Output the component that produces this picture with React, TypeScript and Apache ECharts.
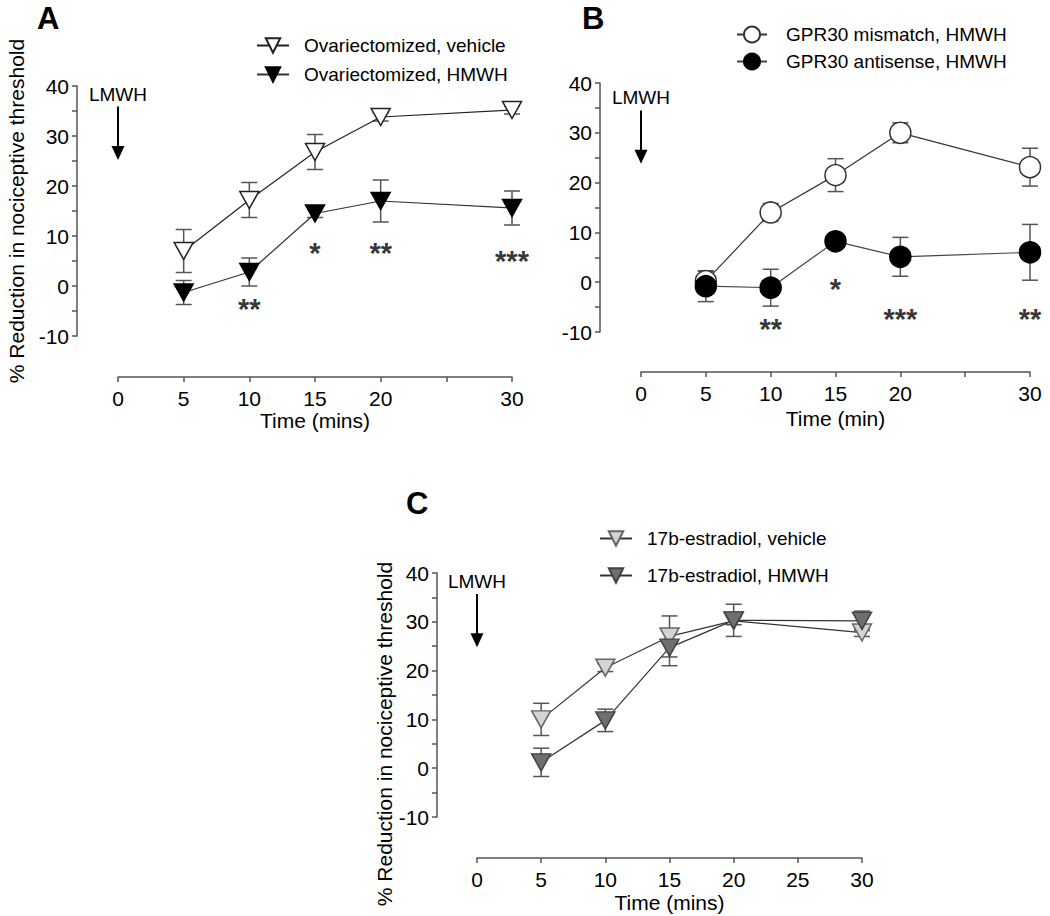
import React, { useEffect, useRef } from "react";
import * as echarts from "echarts";

// ---------- data ----------
const times = [5, 10, 15, 20, 30];
const xTicks = [0, 5, 10, 15, 20, 25, 30];
const yTicks = [-10, 0, 10, 20, 30, 40];

// Panel A
const ovxVehicleMean = [7, 17.2, 26.8, 33.8, 35.2];
const ovxVehicleSem = [4.3, 3.5, 3.5, 0.8, 0.8];
const ovxHmwhMean = [-1.3, 2.8, 14.5, 17, 15.6];
const ovxHmwhSem = [2.4, 2.8, 0.8, 4.2, 3.4];
const starsATimes = [10, 15, 20, 30];
const starsAY = [-3.4, 7.8, 7.8, 6.2];
const starsALabels = ["**", "*", "**", "***"];

// Panel B
const mismatchMean = [0.2, 14, 21.5, 30, 23.1];
const mismatchSem = [2, 1.8, 3.3, 2, 3.8];
const antisenseMean = [-0.8, -1.1, 8.2, 5.1, 6];
const antisenseSem = [3.1, 3.7, 0.8, 3.9, 5.6];
const starsBTimes = [10, 15, 20, 30];
const starsBY = [-8.2, -0.2, -6.2, -6.2];
const starsBLabels = ["**", "*", "***", "**"];

// Panel C
const e2VehicleMean = [10, 20.6, 27, 30.2, 27.8];
const e2VehicleSem = [3.3, 0.8, 4.2, 0.8, 0.8];
const e2HmwhMean = [1.2, 9.8, 24.7, 30.3, 30.2];
const e2HmwhSem = [2.9, 2.3, 3.7, 3.3, 2.0];

// LMWH arrow (time 0), start & end values per panel
const arrowA = [35.9, 26.6];
const arrowB = [34.5, 25.2];
const arrowC = [35.7, 26.2];

const FONT = "Liberation Sans, Arial, Helvetica, sans-serif";
const AXIS_COLOR = "#555";

function errorSeries(gi: number, mean: number[], sem: number[], color: string) {
  return {
    type: "custom",
    xAxisIndex: gi,
    yAxisIndex: gi,
    z: 1,
    silent: true,
    data: times.map((t, i) => [t, mean[i], sem[i]]),
    encode: { x: 0, y: 1 },
    renderItem: (params: any, api: any) => {
      const x = api.value(0);
      const m = api.value(1);
      const s = api.value(2);
      const p1 = api.coord([x, m + s]);
      const p2 = api.coord([x, m - s]);
      const w = 8;
      const style = { stroke: color, lineWidth: 1.5 };
      return {
        type: "group",
        children: [
          { type: "line", shape: { x1: p1[0], y1: p1[1], x2: p2[0], y2: p2[1] }, style },
          { type: "line", shape: { x1: p1[0] - w, y1: p1[1], x2: p1[0] + w, y2: p1[1] }, style },
          { type: "line", shape: { x1: p2[0] - w, y1: p2[1], x2: p2[0] + w, y2: p2[1] }, style },
        ],
      };
    },
  };
}

function lineSeries(
  gi: number,
  name: string,
  mean: number[],
  symbol: string,
  size: any,
  rotate: number,
  fill: string,
  border: string,
  lineColor: string,
  arrow?: number[]
) {
  const s: any = {
    type: "line",
    name,
    xAxisIndex: gi,
    yAxisIndex: gi,
    z: 3,
    clip: false,
    data: times.map((t, i) => [t, mean[i]]),
    symbol,
    symbolSize: size,
    symbolRotate: rotate,
    showSymbol: true,
    itemStyle: { color: fill, borderColor: border, borderWidth: 1.5, opacity: 1 },
    lineStyle: { color: lineColor, width: 1.2 },
    emphasis: { disabled: true },
  };
  if (arrow) {
    s.markLine = {
      silent: true,
      animation: false,
      symbol: ["none", "triangle"],
      symbolSize: [13, 14],
      lineStyle: { color: "#000", width: 2, type: "solid" },
      itemStyle: { color: "#000" },
      label: {
        show: true,
        position: "start",
        formatter: "LMWH",
        fontSize: 19,
        fontFamily: FONT,
        color: "#000",
        distance: 3,
      },
      data: [[{ coord: [0, arrow[0]] }, { coord: [0, arrow[1]] }]],
    };
  }
  return s;
}

function starSeries(gi: number, xs: number[], ys: number[], labels: string[]) {
  return {
    type: "scatter",
    xAxisIndex: gi,
    yAxisIndex: gi,
    z: 4,
    silent: true,
    symbol: "circle",
    symbolSize: 1,
    itemStyle: { color: "rgba(0,0,0,0)" },
    data: xs.map((x, i) => [x, ys[i], labels[i]]),
    label: {
      show: true,
      position: "inside",
      offset: [0, 6],
      formatter: (p: any) => p.value[2],
      fontSize: 29,
      fontWeight: "bold",
      fontFamily: FONT,
      color: "#000",
    },
  };
}

function xAxis(gi: number, offset: number, name: string, nameGap: number, hide25: boolean) {
  return {
    type: "value",
    gridIndex: gi,
    min: xTicks[0],
    max: xTicks[xTicks.length - 1],
    interval: 5,
    offset,
    name,
    nameLocation: "middle",
    nameGap,
    nameTextStyle: { fontSize: 21, fontFamily: FONT, color: "#000" },
    axisLine: { show: true, onZero: false, lineStyle: { color: AXIS_COLOR, width: 1.5 } },
    axisTick: { show: true, length: 5, lineStyle: { color: AXIS_COLOR, width: 1.5 } },
    axisLabel: {
      fontSize: 21,
      fontFamily: FONT,
      color: "#000",
      margin: 11,
      formatter: (v: number) => (hide25 && v === 25 ? "" : String(v)),
    },
    splitLine: { show: false },
  };
}

function yAxis(gi: number, offset: number, name: string, nameGap: number, namePadding: number[]) {
  return {
    type: "value",
    gridIndex: gi,
    min: yTicks[0],
    max: yTicks[yTicks.length - 1],
    interval: 5,
    offset,
    name,
    nameLocation: "middle",
    nameGap,
    nameTextStyle: { fontSize: 21, fontFamily: FONT, color: "#000", padding: namePadding },
    axisLine: { show: true, onZero: false, lineStyle: { color: AXIS_COLOR, width: 1.5 } },
    axisTick: { show: true, length: 5, lineStyle: { color: AXIS_COLOR, width: 1.5 } },
    axisLabel: {
      fontSize: 21,
      fontFamily: FONT,
      color: "#000",
      margin: 8,
      formatter: (v: number) => (yTicks.indexOf(v) >= 0 ? String(v) : ""),
    },
    splitLine: { show: false },
  };
}

const yTitle = "% Reduction in nociceptive threshold";

export default function App() {
  const ref = useRef<HTMLDivElement>(null);
  useEffect(() => {
    if (!ref.current) return;
    const chart = echarts.init(ref.current, undefined, { renderer: "svg" });
    const triDown = "triangle";
    const titleStyle = { fontSize: 31, fontWeight: "bold", fontFamily: FONT, color: "#000" };
    const option: any = {
      animation: false,
      backgroundColor: "#fff",
      textStyle: { fontFamily: FONT },
      title: [
        { text: "A", left: 37, top: 3, padding: 0, textStyle: titleStyle },
        { text: "B", left: 582, top: 3, padding: 0, textStyle: titleStyle },
        { text: "C", left: 406, top: 488, padding: 0, textStyle: titleStyle },
      ],
      legend: [
        {
          orient: "vertical",
          left: 256,
          top: 36,
          itemWidth: 32,
          itemHeight: 18,
          itemGap: 10,
          padding: 0,
          selectedMode: false,
          textStyle: { fontSize: 19, fontFamily: FONT, color: "#000", padding: [0, 0, 0, 10] },
          data: ["Ovariectomized, vehicle", "Ovariectomized, HMWH"],
        },
        {
          orient: "vertical",
          left: 736,
          top: 25,
          itemWidth: 30,
          itemHeight: 20,
          itemGap: 8,
          padding: 0,
          selectedMode: false,
          textStyle: { fontSize: 19, fontFamily: FONT, color: "#000", padding: [0, 0, 0, 14] },
          data: ["GPR30 mismatch, HMWH", "GPR30 antisense, HMWH"],
        },
        {
          orient: "vertical",
          left: 599,
          top: 529,
          itemWidth: 32,
          itemHeight: 18,
          itemGap: 18,
          padding: 0,
          selectedMode: false,
          textStyle: { fontSize: 19, fontFamily: FONT, color: "#000", padding: [0, 0, 0, 10] },
          data: ["17b-estradiol, vehicle", "17b-estradiol, HMWH"],
        },
      ],
      grid: [
        { left: 118, top: 86, width: 394, height: 250 },
        { left: 641, top: 83, width: 389, height: 249 },
        { left: 477, top: 573, width: 385, height: 244 },
      ],
      xAxis: [
        xAxis(0, 41, "Time (mins)", 32, true),
        xAxis(1, 40, "Time (min)", 36, true),
        xAxis(2, 41, "Time (mins)", 34, false),
      ],
      yAxis: [
        yAxis(0, 41, yTitle, 50, [0, 0, 0, 0]),
        yAxis(1, 41, "", 50, [0, 0, 0, 0]),
        yAxis(2, 40, yTitle, 40, [0, 78, 0, 0]),
      ],
      series: [
        // Panel A
        errorSeries(0, ovxVehicleMean, ovxVehicleSem, "#555"),
        errorSeries(0, ovxHmwhMean, ovxHmwhSem, "#555"),
        lineSeries(0, "Ovariectomized, vehicle", ovxVehicleMean, triDown, [19, 17], 180, "#fff", "#222", "#222", arrowA),
        lineSeries(0, "Ovariectomized, HMWH", ovxHmwhMean, triDown, [19, 17], 180, "#000", "#000", "#333"),
        starSeries(0, starsATimes, starsAY, starsALabels),
        // Panel B
        errorSeries(1, mismatchMean, mismatchSem, "#555"),
        errorSeries(1, antisenseMean, antisenseSem, "#555"),
        lineSeries(1, "GPR30 mismatch, HMWH", mismatchMean, "circle", 21, 0, "#fff", "#333", "#333", arrowB),
        lineSeries(1, "GPR30 antisense, HMWH", antisenseMean, "circle", 21, 0, "#000", "#000", "#444"),
        starSeries(1, starsBTimes, starsBY, starsBLabels),
        // Panel C
        errorSeries(2, e2VehicleMean, e2VehicleSem, "#555"),
        errorSeries(2, e2HmwhMean, e2HmwhSem, "#555"),
        lineSeries(2, "17b-estradiol, vehicle", e2VehicleMean, triDown, [19, 17], 180, "#d4d4d4", "#666", "#333", arrowC),
        lineSeries(2, "17b-estradiol, HMWH", e2HmwhMean, triDown, [19, 17], 180, "#6f6f6f", "#444", "#333"),
      ],
    };
    chart.setOption(option);
    return () => chart.dispose();
  }, []);
  return (
    <div
      ref={ref}
      style={{ position: "absolute", left: 0, top: 0, width: 1050, height: 916, background: "#fff" }}
    />
  );
}
